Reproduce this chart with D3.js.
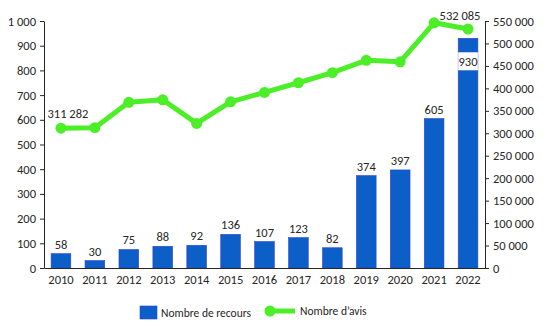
<!DOCTYPE html>
<html>
<head>
<meta charset="utf-8">
<script src="https://cdn.jsdelivr.net/npm/d3@7"></script>
<style>
  html, body { margin: 0; padding: 0; background: #fff; }
  svg text { font-family: Carlito, Calibri, Lato, "Open Sans", sans-serif; fill: #262626; }
</style>
</head>
<body>
<svg id="chart" width="547" height="327"></svg>
<script>
// Years, number of appeals (bars, left axis) and number of opinions (line, right axis)
const years = ["2010","2011","2012","2013","2014","2015","2016","2017","2018","2019","2020","2021","2022"];
const recours = [58, 30, 75, 88, 92, 136, 107, 123, 82, 374, 397, 605, 930];
const avis = [311282, 312500, 369000, 374500, 322000, 370000, 391000, 412500, 435000, 462500, 459000, 546000, 532085];
const leftTicks = [0, 100, 200, 300, 400, 500, 600, 700, 800, 900, 1000];
const rightTicks = [0, 50000, 100000, 150000, 200000, 250000, 300000, 350000, 400000, 450000, 500000, 550000];
const legendLabels = ["Nombre de recours", "Nombre d’avis"];

const barColor = "#0b5fc6";
const lineColor = "#4cee28";
const fmt = v => d3.format(",")(v).replace(/,/g, " ");

const svg = d3.select("#chart");
const m = { left: 44, right: 485, top: 21, bottom: 268 };

const x = d3.scaleBand().domain(years).range([m.left, m.right]).paddingInner(0.42).paddingOuter(0.21);
const yL = d3.scaleLinear().domain([0, 1000]).range([m.bottom, m.top]);
const yR = d3.scaleLinear().domain([0, 550000]).range([m.bottom, m.top]);

// Bars
svg.append("g").selectAll("rect").data(years).join("rect")
  .attr("x", d => x(d))
  .attr("y", (d, i) => yL(recours[i]))
  .attr("width", x.bandwidth())
  .attr("height", (d, i) => yL(0) - yL(recours[i]))
  .attr("fill", barColor)
  .attr("stroke", "#3340d4")
  .attr("stroke-width", 0.6);

// Bar value labels (the last one sits inside its bar on a white box)
const bl = svg.append("g");
years.forEach((d, i) => {
  const cx = x(d) + x.bandwidth() / 2;
  const last = i === years.length - 1;
  const ty = last ? yL(recours[i]) + 28 : yL(recours[i]) - 5;
  if (last) {
    bl.append("rect").attr("x", x(d)).attr("y", ty - 14).attr("width", x.bandwidth()).attr("height", 18).attr("fill", "#fff");
  }
  bl.append("text").attr("x", cx).attr("y", ty).attr("text-anchor", "middle")
    .attr("font-size", 12.5).text(recours[i]);
});

// Axes
const axisStyle = g => {
  g.selectAll("path, line").attr("stroke", "#262626");
  g.selectAll("text").attr("font-size", 12.5).attr("fill", "#262626");
};
svg.append("g").attr("transform", `translate(${m.left},0)`)
  .call(d3.axisLeft(yL).tickValues(leftTicks).tickSize(4).tickSizeOuter(0).tickPadding(4).tickFormat(fmt))
  .call(axisStyle);
svg.append("g").attr("transform", `translate(${m.right},0)`)
  .call(d3.axisRight(yR).tickValues(rightTicks).tickSize(4).tickSizeOuter(0).tickPadding(4).tickFormat(fmt))
  .call(axisStyle);
svg.append("g").attr("transform", `translate(0,${m.bottom})`)
  .call(d3.axisBottom(x).tickSize(0).tickPadding(7))
  .call(axisStyle);

// Line of opinions
const line = d3.line().x((d, i) => x(years[i]) + x.bandwidth() / 2).y(d => yR(d));
svg.append("path").datum(avis).attr("d", line)
  .attr("fill", "none").attr("stroke", lineColor).attr("stroke-width", 5).attr("stroke-linejoin", "round");
svg.append("g").selectAll("circle").data(avis).join("circle")
  .attr("cx", (d, i) => x(years[i]) + x.bandwidth() / 2)
  .attr("cy", d => yR(d))
  .attr("r", 5.5)
  .attr("fill", lineColor);

// Line value labels for first and last year
[0, avis.length - 1].forEach(i => {
  const cx = x(years[i]) + x.bandwidth() / 2;
  svg.append("text")
    .attr("x", i === 0 ? cx + 7 : cx - 8)
    .attr("y", yR(avis[i]) - (i === 0 ? 10 : 9))
    .attr("text-anchor", "middle")
    .attr("font-size", 12.5)
    .text(fmt(avis[i]));
});

// Legend
const lg = svg.append("g");
lg.append("rect").attr("x", 140).attr("y", 306).attr("width", 17).attr("height", 13)
  .attr("fill", barColor).attr("stroke", "#3340d4").attr("stroke-width", 0.6);
lg.append("text").attr("x", 161).attr("y", 317).attr("font-size", 11.5).text(legendLabels[0]);
lg.append("line").attr("x1", 266).attr("x2", 295).attr("y1", 311).attr("y2", 311)
  .attr("stroke", lineColor).attr("stroke-width", 5);
lg.append("circle").attr("cx", 270).attr("cy", 311).attr("r", 5.5).attr("fill", lineColor);
lg.append("text").attr("x", 300).attr("y", 315).attr("font-size", 11.5).text(legendLabels[1]);
</script>
</body>
</html>
